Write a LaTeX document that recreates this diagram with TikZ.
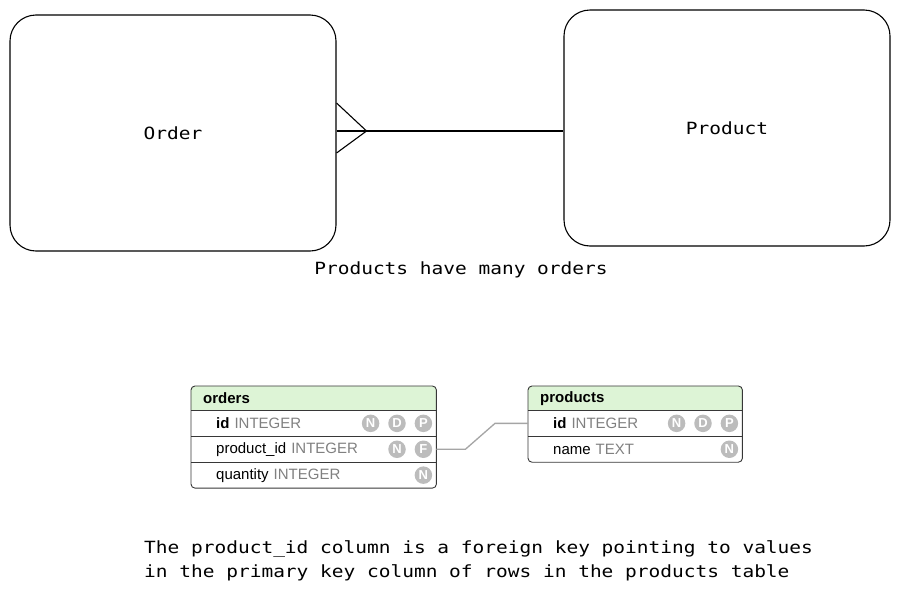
\documentclass[tikz,border=0pt]{standalone}
\usepackage{fontspec}
\setmainfont{Liberation Sans}
\newfontfamily\codefont[FakeStretch=1.16]{DejaVu Sans Mono}
\usetikzlibrary{positioning}
\usetikzlibrary{calc}

\definecolor{hdrgreen}{RGB}{221,244,214}
\definecolor{typegrey}{RGB}{128,128,128}
\definecolor{badgegrey}{RGB}{188,188,188}
\definecolor{linkgrey}{RGB}{165,165,165}
\definecolor{frameclr}{RGB}{55,55,55}
\newcommand{\coltype}[1]{\textcolor{typegrey}{#1}}
\newcommand{\codesize}{\fontsize{16.8}{24}\selectfont}
\pgfdeclarelayer{background}
\pgfsetlayers{background,main}

\tikzset{
  entity/.style={rectangle, draw=black, line width=1.1pt, rounded corners=26pt, minimum width=326pt, minimum height=236pt, font=\codefont\codesize},
  tblhead/.style={rectangle, anchor=north west, inner xsep=12pt, inner ysep=0pt, minimum height=24pt, text width=#1, font=\bfseries\fontsize{15}{17}\selectfont},
  tblrow/.style={rectangle, anchor=north west, inner xsep=25pt, inner ysep=0pt, minimum height=25.5pt, text width=#1, font=\fontsize{15}{17}\selectfont},
  tblframe/.style={draw=frameclr, line width=0.9pt},
  badge/.style={circle, fill=badgegrey, text=white, inner sep=0pt, minimum size=17.5pt, font=\bfseries\fontsize{13}{13}\selectfont},
  fklink/.style={draw=linkgrey, line width=1.3pt},
}

\begin{document}
\begin{tikzpicture}[x=1pt, y=-1pt]
		\useasboundingbox (0,0) rectangle (900,592);
		% conceptual model
		\node[entity] (Order) at (173,133) {Order};
		\node[entity] (Product) at (727,128) {Product};
		\draw[line width=1.1pt] ([yshift=2pt]Order.east) -- ([yshift=-3pt]Product.west);
		\draw[line width=1.1pt] ([yshift=30pt]Order.east) -- ([shift={(30pt,2pt)}]Order.east) -- ([yshift=-20pt]Order.east);
		\node[font=\codefont\codesize] (ManyCaption) at (461,270) {Products have many orders};

		% orders table
		\node[tblhead=221pt] (orders) at (191,386) {orders};
		\node[tblrow=195pt] (ordId) at (orders.south west) {\textbf{id} \coltype{INTEGER}};
		\node[tblrow=195pt] (ordPid) at (ordId.south west) {product\_id \coltype{INTEGER}};
		\node[tblrow=195pt] (ordQty) at (ordPid.south west) {quantity \coltype{INTEGER}};
		\begin{pgfonlayer}{background}
			\fill[hdrgreen, rounded corners=4pt] (orders.south west) -- (orders.north west) -- (orders.north east) -- (orders.south east);
		\end{pgfonlayer}
		\foreach \r in {ordId,ordPid,ordQty}
			\draw[tblframe] (\r.north west) -- (\r.north east);
		\draw[tblframe, rounded corners=4pt] (orders.north west) rectangle (ordQty.south east);
		\node[badge] (ordIdP) at ([xshift=-13pt]ordId.east) {P};
		\node[badge] (ordIdD) [left=8.5pt of ordIdP] {D};
		\node[badge] (ordIdN) [left=8.5pt of ordIdD] {N};
		\node[badge] (ordPidF) at ([xshift=-13pt]ordPid.east) {F};
		\node[badge] (ordPidN) [left=8.5pt of ordPidF] {N};
		\node[badge] (ordQtyN) at ([xshift=-13pt]ordQty.east) {N};

		% products table
		\node[tblhead=190pt] (products) at (528,386) {products};
		\node[tblrow=164pt] (prodId) at (products.south west) {\textbf{id} \coltype{INTEGER}};
		\node[tblrow=164pt] (prodName) at (prodId.south west) {name \coltype{TEXT}};
		\begin{pgfonlayer}{background}
			\fill[hdrgreen, rounded corners=4pt] (products.south west) -- (products.north west) -- (products.north east) -- (products.south east);
		\end{pgfonlayer}
		\foreach \r in {prodId,prodName}
			\draw[tblframe] (\r.north west) -- (\r.north east);
		\draw[tblframe, rounded corners=4pt] (products.north west) rectangle (prodName.south east);
		\node[badge] (prodIdP) at ([xshift=-13pt]prodId.east) {P};
		\node[badge] (prodIdD) [left=8.5pt of prodIdP] {D};
		\node[badge] (prodIdN) [left=8.5pt of prodIdD] {N};
		\node[badge] (prodNameN) at ([xshift=-13pt]prodName.east) {N};

		% foreign key
		\draw[fklink] (ordPid.east) -- ++(29,0) -- ([xshift=-33pt]prodId.west) -- (prodId.west);

		\node[font=\codefont\codesize, align=left, anchor=north west, inner sep=0pt] (FkNote) at (144,540)
			{The product\_id column is a foreign key pointing to values\\in the primary key column of rows in the products table};
	\end{tikzpicture}
\end{document}
